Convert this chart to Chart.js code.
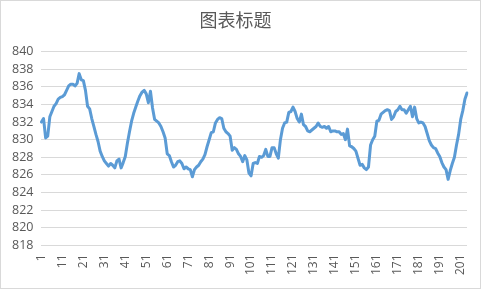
<!DOCTYPE html>
<html lang="zh">
<head>
  <meta charset="UTF-8">
  <title>图表标题</title>
  <script src="https://cdn.jsdelivr.net/npm/chart.js"></script>
  <style>
    html, body { margin: 0; padding: 0; background: #fff; }
    #wrap { width: 479px; height: 287px; border: 1px solid #d9d9d9; }
  </style>
</head>
<body>
  <div id="wrap"><canvas id="chart" width="479" height="287"></canvas></div>

  <script>
    // 序列值
    const values = [
      832.0, 832.4, 830.2, 830.4, 832.6, 833.2, 833.8, 834.1, 834.6, 834.8,
      834.9, 835.1, 835.6, 836.1, 836.3, 836.3, 836.1, 836.4, 837.5, 836.8,
      836.7, 835.6, 833.8, 833.5, 832.4, 831.5, 830.6, 829.8, 828.7, 828.1,
      827.6, 827.3, 827.0, 827.3, 827.1, 826.8, 827.6, 827.8, 826.8, 827.4,
      828.1, 829.6, 830.9, 832.1, 833.0, 833.7, 834.4, 835.0, 835.4, 835.6,
      835.2, 834.2, 835.5, 833.6, 832.3, 832.1, 831.9, 831.5, 830.9, 830.2,
      828.4, 828.2, 827.5, 826.9, 827.1, 827.5, 827.6, 827.3, 826.7, 826.9,
      826.7, 826.6, 825.8, 826.6, 826.9, 827.1, 827.5, 827.8, 828.3, 829.2,
      830.0, 830.8, 830.9, 831.9, 832.3, 832.5, 832.4, 831.3, 830.9, 830.7,
      830.4, 828.8, 829.1, 828.9, 828.4, 828.1, 827.5, 828.2, 827.7, 826.2,
      825.9, 827.3, 827.4, 827.3, 828.1, 828.0, 828.2, 828.9, 828.1, 828.1,
      829.1, 829.1, 828.4, 827.9, 830.0, 831.3, 831.9, 832.0, 833.1, 833.2,
      833.7, 833.2, 832.4, 832.0, 832.9, 831.7, 831.5, 831.0, 830.9, 831.1,
      831.3, 831.5, 831.9, 831.5, 831.4, 831.5, 831.3, 831.5, 830.9, 831.0,
      831.0, 830.9, 830.9, 830.6, 830.7, 830.0, 831.2, 829.3, 829.2, 829.0,
      828.7, 827.9, 827.1, 827.2, 826.8, 826.6, 826.9, 829.4, 830.0, 830.4,
      832.1, 832.2, 832.9, 833.1, 833.3, 833.4, 833.3, 832.3, 832.6, 833.2,
      833.4, 833.8, 833.4, 833.4, 833.0, 833.4, 833.8, 832.6, 833.7, 832.4,
      831.9, 832.0, 831.9, 831.5, 830.7, 829.9, 829.4, 829.1, 829.0, 828.5,
      828.1, 827.4, 826.9, 826.6, 825.5, 826.5, 827.3, 828.0, 829.4, 830.6,
      832.3, 833.3, 834.6, 835.3
    ];

    // 类别 1..N
    const categories = values.map((v, i) => String(i + 1));

    // 坐标轴刻度
    const yMin = 818;
    const yMax = 840;
    const yStep = 2;
    const labelEvery = 10;

    const textColor = '#595959';
    const gridColor = '#d9d9d9';

    const ctx = document.getElementById('chart').getContext('2d');
    new Chart(ctx, {
      type: 'line',
      data: {
        labels: categories,
        datasets: [{
          label: '系列1',
          data: values,
          borderColor: '#5b9bd5',
          borderWidth: 3,
          pointRadius: 0,
          tension: 0,
          fill: false,
          borderJoinStyle: 'round',
          borderCapStyle: 'round'
        }]
      },
      options: {
        responsive: false,
        animation: false,
        layout: { padding: { left: 3, right: 13, top: 4, bottom: 4 } },
        plugins: {
          legend: { display: false },
          tooltip: { enabled: false },
          title: {
            display: true,
            text: '图表标题',
            color: textColor,
            font: { family: '"Noto Sans CJK SC", sans-serif', size: 18, weight: 'normal' },
            padding: { top: 4, bottom: 21 }
          }
        },
        scales: {
          x: {
            offset: false,
            grid: { display: false, drawTicks: false },
            border: { display: false },
            afterFit: function (scale) {
              // 旋转标签不需要额外的左右留白
              scale.paddingLeft = 0;
              scale.paddingRight = 0;
            },
            ticks: {
              autoSkip: false,
              minRotation: 90,
              maxRotation: 90,
              padding: 9,
              color: textColor,
              font: { family: '"Open Sans", sans-serif', size: 12 },
              callback: function (val, idx) {
                return idx % labelEvery === 0 ? categories[idx] : '';
              }
            }
          },
          y: {
            min: yMin,
            max: yMax,
            grid: { color: gridColor, lineWidth: 1, drawTicks: false },
            border: { display: false },
            ticks: {
              autoSkip: false,
              stepSize: yStep,
              padding: 8,
              color: textColor,
              font: { family: '"Open Sans", sans-serif', size: 12.5 }
            }
          }
        }
      }
    });
  </script>
</body>
</html>
